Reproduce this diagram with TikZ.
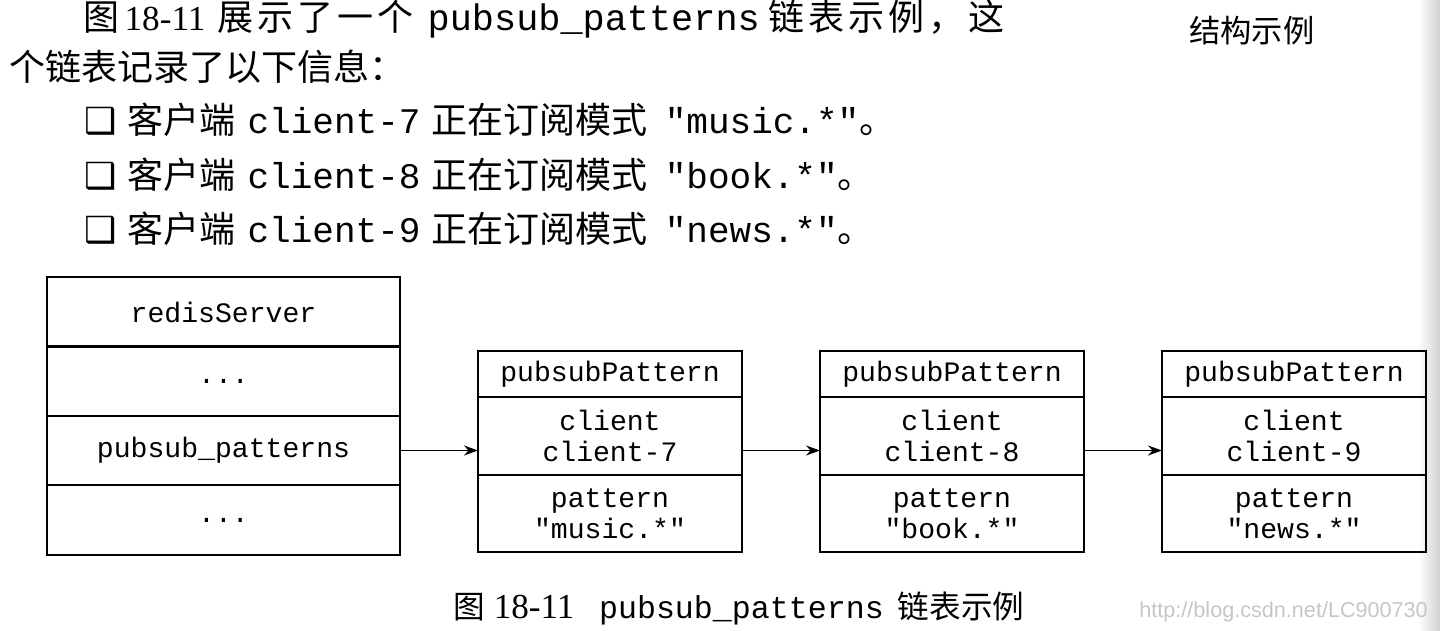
\documentclass[tikz,border=0pt]{standalone}
\usepackage{fontspec}
\usepackage{graphicx}
\setmainfont{Liberation Serif}
\setmonofont{Liberation Mono}
\newfontfamily\cjk{Noto Sans CJK SC}
\newfontfamily\cjkw{Noto Sans CJK SC}[LetterSpace=11]
\newfontfamily\dingfont{DejaVu Sans}
\newfontfamily\wmfont{Liberation Sans}
\usetikzlibrary{positioning,arrows.meta}

\begin{document}
\begin{tikzpicture}[
  x=0.2mm, y=-0.2mm,
  font=\fontsize{16}{17.6}\selectfont\ttfamily,
  row/.style={draw, line width=1.1pt, minimum width=70.6mm, minimum height=13.9mm, inner sep=0pt, outer sep=0pt, align=center},
  hd/.style={draw, line width=1.1pt, minimum width=52.8mm, minimum height=9.2mm, inner sep=0pt, outer sep=0pt, align=center},
  fld/.style={draw, line width=1.1pt, minimum width=52.8mm, minimum height=15.5mm, inner sep=0pt, outer sep=0pt, align=center},
  ptr/.style={-{Stealth[length=2.8mm, width=2mm]}, line width=0.8pt},
  ln/.style={anchor=base west, inner sep=0pt, font=\fontsize{20.5}{24}\selectfont\ttfamily},
  capline/.style={anchor=base west, inner sep=0pt, font=\fontsize{18}{22}\selectfont\ttfamily},
  wm/.style={anchor=base west, inner sep=0pt, text=gray!45, font=\fontsize{12.3}{14}\selectfont\wmfont}
]
\useasboundingbox (0,0) rectangle (1440,630);
% scan shadow at the right edge
\fill[left color=white, right color=black!18, draw=none] (1418,0) rectangle (1440,630);

% text above the figure
\node[ln] (l1) at (83,30) {\cjkw 图\hspace{3pt}{\rmfamily\fontsize{20}{24}\selectfont 18-11}\hspace{7pt}展示了一个\hspace{8pt}{\ttfamily\fontsize{21}{24}\selectfont pubsub\_patterns}\hspace{5pt}链表示例，这};
\node[ln, font=\fontsize{17.8}{20}\selectfont\cjk] (side) at (1189,42) {结构示例};
\node[ln, font=\fontsize{20.5}{24}\selectfont\cjk] (l2) at (9,80) {个链表记录了以下信息：};
\node[ln] (b7) at (84,133) {{\dingfont ❑}\hspace{6pt}{\cjk 客户端}\hspace{7pt}client-7\hspace{6pt}{\cjk 正在订阅模式}\hspace{10pt}"music.*"{\cjk 。}};
\node[ln] (b8) at (84,188) {{\dingfont ❑}\hspace{6pt}{\cjk 客户端}\hspace{7pt}client-8\hspace{6pt}{\cjk 正在订阅模式}\hspace{10pt}"book.*"{\cjk 。}};
\node[ln] (b9) at (84,242) {{\dingfont ❑}\hspace{6pt}{\cjk 客户端}\hspace{7pt}client-9\hspace{6pt}{\cjk 正在订阅模式}\hspace{10pt}"news.*"{\cjk 。}};

% redisServer
\node[row] (rs) at (223.5,312)   {redisServer};
\node[row] (d1) at (223.5,381)   {...};
\node[row] (ps) at (223.5,450.5) {pubsub\_patterns};
\node[row] (d2) at (223.5,520)   {...};

% pubsubPattern nodes
\node[hd]  (h1) at (610,374)   {pubsubPattern};
\node[fld] (c1) at (610,436)   {client\\client-7};
\node[fld] (t1) at (610,513.5) {pattern\\"music.*"};

\node[hd]  (h2) at (952,374)   {pubsubPattern};
\node[fld] (c2) at (952,436)   {client\\client-8};
\node[fld] (t2) at (952,513.5) {pattern\\"book.*"};

\node[hd]  (h3) at (1294,374)   {pubsubPattern};
\node[fld] (c3) at (1294,436)   {client\\client-9};
\node[fld] (t3) at (1294,513.5) {pattern\\"news.*"};

% list pointers
\draw[ptr] (ps.east) -- (ps.east -| c1.west);
\draw[ptr] (c1.east |- ps.east) -- (c2.west |- ps.east);
\draw[ptr] (c2.east |- ps.east) -- (c3.west |- ps.east);

% caption
\node[capline] (fig) at (453,618) {{\cjk 图}\hspace{5pt}{\rmfamily\fontsize{20}{22}\selectfont 18-11}\hspace{14pt}pubsub\_patterns\hspace{8pt}{\cjk 链表示例}};
\node[wm] (url) at (1139,617) {http://blog.csdn.net/LC900730};
\end{tikzpicture}
\end{document}
